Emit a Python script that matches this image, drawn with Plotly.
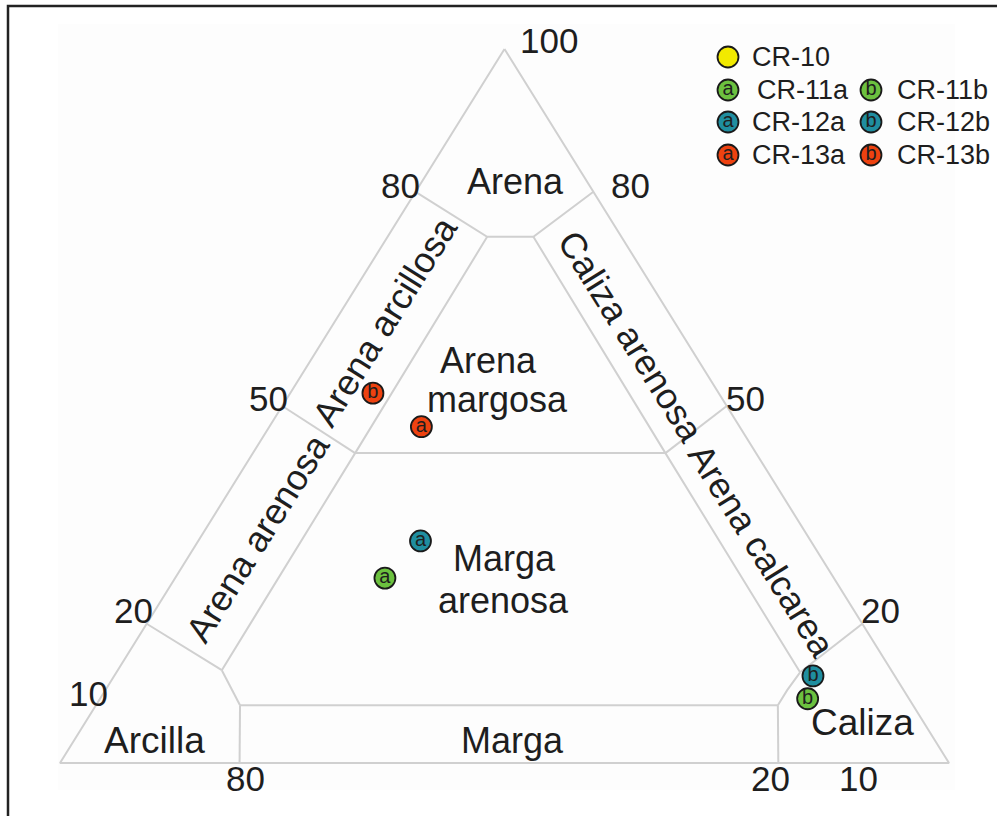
import plotly.graph_objects as go

# ---------------- data (percentages) ----------------
samples = ["CR-11a", "CR-11b", "CR-12a", "CR-12b", "CR-13a", "CR-13b"]
sand = [25.9, 9.0, 31.1, 12.2, 47.1, 51.8]          # % arena (top apex)
carbonate = [23.6, 79.6, 25.0, 78.6, 17.1, 9.3]     # % caliza (bottom-right apex)
clay = [round(100 - s - k, 1) for s, k in zip(sand, carbonate)]  # % arcilla
letters = ["a", "b", "a", "b", "a", "b"]
sample_colors = ["#6cc13f", "#6cc13f", "#1f8ea0", "#1f8ea0", "#ee4210", "#ee4210"]

legend_names = ["CR-10", "CR-11a", "CR-11b", "CR-12a", "CR-12b", "CR-13a", "CR-13b"]
legend_letters = ["", "a", "b", "a", "b", "a", "b"]
legend_colors = ["#f2ea00", "#6cc13f", "#6cc13f", "#1f8ea0", "#1f8ea0", "#ee4210", "#ee4210"]

# classification boundaries: polylines of (sand %, carbonate %)
outline = [(100, 0), (0, 0), (0, 100), (100, 0)]
arena_limit = [(80, 0), (73.7, 11.2), (73.7, 16.4), (80, 20)]
inner_left = [(73.7, 11.2), (43.4, 11.5), (13.0, 11.7)]
left_curve = [(13.0, 11.7), (10.5, 14.0), (8.1, 16.2)]
bottom_line = [(8.1, 16.2), (8.1, 76.7)]
left_drop = [(8.1, 16.2), (0, 20.2)]
right_drop = [(8.1, 76.7), (0, 80.8)]
right_curve = [(8.1, 76.7), (10.2, 76.7), (12.7, 76.9)]
inner_right = [(12.7, 76.9), (43.4, 46.4), (73.7, 16.4)]
middle_line = [(43.4, 11.5), (43.4, 46.4)]
sep_left_50 = [(50, 0), (43.4, 11.5)]
sep_left_20 = [(19.5, 0), (13.0, 11.7)]
sep_right_50 = [(50, 50), (43.4, 46.4)]
sep_right_20 = [(19.5, 80.5), (12.7, 76.9)]
boundaries = [outline, arena_limit, inner_left, left_curve, bottom_line, left_drop,
              right_drop, right_curve, inner_right, middle_line, sep_left_50,
              sep_left_20, sep_right_50, sep_right_20]


def to_xy(s, k):
    # ternary -> cartesian (x: carbonate + sand/2, y: sand)
    return k + s / 2.0, s


W, H = 997, 816
FONT = "Liberation Sans, Arial, Helvetica, sans-serif"
TXT = "#1e1e1e"
LINE = "#d0d0d0"

fig = go.Figure()

for poly in boundaries:
    xs, ys = zip(*[to_xy(s, k) for s, k in poly])
    fig.add_trace(go.Scatter(x=xs, y=ys, mode="lines",
                             line=dict(color=LINE, width=2),
                             hoverinfo="skip", showlegend=False))

px_, py_ = zip(*[to_xy(s, k) for s, k in zip(sand, carbonate)])
fig.add_trace(go.Scatter(
    x=px_, y=py_, mode="markers+text", text=letters,
    textposition="middle center",
    textfont=dict(family=FONT, size=20, color=TXT),
    marker=dict(size=21, color=sample_colors, line=dict(color="#1a1a1a", width=1.8)),
    customdata=list(zip(samples, clay)),
    hovertemplate="%{customdata[0]}<br>Arcilla %{customdata[1]}%<extra></extra>",
    showlegend=False))

# custom legend (pixel-like overlay axes)
leg_x = [728, 728, 871, 728, 871, 728, 871]
leg_y = [57, 90, 90, 122, 122, 155, 155]
fig.add_trace(go.Scatter(
    x=leg_x, y=leg_y, xaxis="x2", yaxis="y2", mode="markers+text",
    text=legend_letters, textposition="middle center",
    textfont=dict(family=FONT, size=20, color=TXT),
    marker=dict(size=21, color=legend_colors, line=dict(color="#1a1a1a", width=1.8)),
    hoverinfo="skip", showlegend=False))

text_x = [750, 755, 895, 750, 895, 750, 895]
annotations = []
for name, tx, ty in zip(legend_names, text_x, leg_y):
    annotations.append(dict(x=tx, y=ty, xref="x2", yref="y2", text=name,
                            showarrow=False, xanchor="left", yanchor="middle",
                            font=dict(family=FONT, size=27, color=TXT)))


def P(x, y, text, size=36, angle=0):
    annotations.append(dict(x=x / W, y=1 - y / H, xref="paper", yref="paper",
                            text=text, showarrow=False, xanchor="center",
                            yanchor="middle", textangle=angle,
                            font=dict(family=FONT, size=size, color=TXT)))


# scale numbers
for t, x, y in [("100", 549, 40), ("80", 400, 186), ("80", 630, 186),
                ("50", 268, 398), ("50", 745, 398), ("20", 133, 610),
                ("20", 880, 610), ("10", 88, 693), ("80", 245, 778),
                ("20", 770, 778), ("10", 858, 778)]:
    P(x, y, t, size=35)

# region names
P(515, 181, "Arena", 36)
P(488, 360, "Arena", 36)
P(497, 399, "margosa", 36)
P(505, 558, "Marga", 36)
P(503, 600, "arenosa", 36)
P(154, 740, "Arcilla", 37)
P(512, 740, "Marga", 36)
P(862, 722, "Caliza", 37)
P(385, 322, "Arena arcillosa", 36, -58)
P(257, 538, "Arena arenosa", 36, -58)
P(631, 336, "Caliza arenosa", 36, 58)
P(762, 550, "Arena calcarea", 36, 58)

shapes = [
    dict(type="rect", xref="paper", yref="paper", x0=58 / W, x1=955 / W,
         y0=1 - 790 / H, y1=1 - 24 / H, line=dict(width=0), fillcolor="#fdfdfd",
         layer="below"),
    dict(type="rect", xref="paper", yref="paper", x0=8 / W, x1=1.02,
         y0=-0.02, y1=1 - 6 / H, line=dict(color="#222222", width=2.5)),
]

# pixel mapping: x px = 60 + X*8.89 ; y px = 763 - Y*7.14
sx, sy = 8.89, 7.14
x_range = [-60 / sx, (W - 60) / sx]
y_range = [-(H - 763) / sy, 763 / sy]

fig.update_layout(
    width=W, height=H, margin=dict(l=0, r=0, t=0, b=0),
    paper_bgcolor="white", plot_bgcolor="rgba(0,0,0,0)",
    xaxis=dict(range=x_range, visible=False, domain=[0, 1], fixedrange=True),
    yaxis=dict(range=y_range, visible=False, domain=[0, 1], fixedrange=True),
    xaxis2=dict(range=[0, W], visible=False, overlaying="x", fixedrange=True),
    yaxis2=dict(range=[H, 0], visible=False, overlaying="y", fixedrange=True),
    annotations=annotations, shapes=shapes, showlegend=False,
)

fig.write_html("out.html", config={"displayModeBar": False},
               post_script="document.body.style.margin='0';")
